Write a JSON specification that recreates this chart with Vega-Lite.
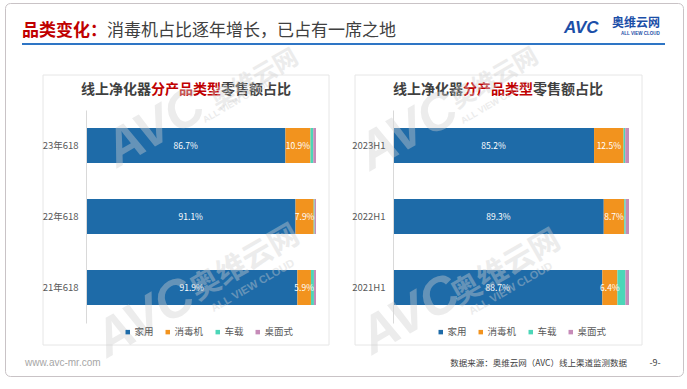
{
  "$schema": "https://vega.github.io/schema/vega-lite/v6.json",
  "width": 678,
  "height": 373,
  "autosize": {"type": "none"},
  "padding": {"left": 5, "top": 3, "right": 4, "bottom": 13},
  "background": "#ffffff",
  "config": {
    "view": {"stroke": "#c9c3c6", "strokeWidth": 1, "cornerRadius": 5},
    "font": "Noto Sans CJK SC",
    "text": {"font": "Noto Sans CJK SC"}
  },
  "datasets": {
    "s618": [
      {"period": "23年618", "type": "家用", "value": 86.7},
      {"period": "23年618", "type": "消毒机", "value": 10.9},
      {"period": "23年618", "type": "车载", "value": 1.2},
      {"period": "23年618", "type": "桌面式", "value": 1.2},
      {"period": "22年618", "type": "家用", "value": 91.1},
      {"period": "22年618", "type": "消毒机", "value": 7.9},
      {"period": "22年618", "type": "车载", "value": 0.4},
      {"period": "22年618", "type": "桌面式", "value": 0.6},
      {"period": "21年618", "type": "家用", "value": 91.9},
      {"period": "21年618", "type": "消毒机", "value": 5.9},
      {"period": "21年618", "type": "车载", "value": 1.3},
      {"period": "21年618", "type": "桌面式", "value": 0.9}
    ],
    "sH1": [
      {"period": "2023H1", "type": "家用", "value": 85.2},
      {"period": "2023H1", "type": "消毒机", "value": 12.5},
      {"period": "2023H1", "type": "车载", "value": 0.7},
      {"period": "2023H1", "type": "桌面式", "value": 1.6},
      {"period": "2022H1", "type": "家用", "value": 89.3},
      {"period": "2022H1", "type": "消毒机", "value": 8.7},
      {"period": "2022H1", "type": "车载", "value": 0.6},
      {"period": "2022H1", "type": "桌面式", "value": 1.4},
      {"period": "2021H1", "type": "家用", "value": 88.7},
      {"period": "2021H1", "type": "消毒机", "value": 6.4},
      {"period": "2021H1", "type": "车载", "value": 3.4},
      {"period": "2021H1", "type": "桌面式", "value": 1.5}
    ]
  },
  "layer": [
    {
      "data": {"values": [{}]},
      "mark": {"type": "rect", "fill": null, "fillOpacity": 0, "stroke": "#e6e6e6", "strokeWidth": 1},
      "encoding": {"x": {"value": 38}, "x2": {"value": 324}, "y": {"value": 72}, "y2": {"value": 342}}
    },
    {
      "data": {"values": [{}]},
      "mark": {"type": "rect", "fill": null, "fillOpacity": 0, "stroke": "#e6e6e6", "strokeWidth": 1},
      "encoding": {"x": {"value": 350}, "x2": {"value": 637}, "y": {"value": 72}, "y2": {"value": 342}}
    },
    {
      "data": {"values": [{}]},
      "mark": {"type": "text", "text": "品类变化：", "align": "left", "baseline": "middle", "fontSize": 17, "fontWeight": "bold", "color": "#C00000"},
      "encoding": {"x": {"value": 17}, "y": {"value": 28}}
    },
    {
      "data": {"values": [{}]},
      "mark": {"type": "text", "text": "消毒机占比逐年增长，已占有一席之地", "align": "left", "baseline": "middle", "fontSize": 17, "color": "#404040"},
      "encoding": {"x": {"value": 102}, "y": {"value": 28}}
    },
    {
      "data": {"values": [{}]},
      "mark": {"type": "rule", "color": "#2E75C5", "strokeWidth": 2},
      "encoding": {"x": {"value": 17}, "x2": {"value": 660}, "y": {"value": 41}}
    },
    {
      "data": {"values": [{}]},
      "mark": {"type": "text", "text": "AVC", "align": "left", "baseline": "middle", "fontSize": 17, "fontWeight": "bold", "fontStyle": "italic", "font": "Liberation Sans", "color": "#1B4FA8"},
      "encoding": {"x": {"value": 559}, "y": {"value": 25}}
    },
    {
      "data": {"values": [{}]},
      "mark": {"type": "text", "text": "奥维云网", "align": "left", "baseline": "middle", "fontSize": 12, "fontWeight": "bold", "color": "#1B4FA8"},
      "encoding": {"x": {"value": 607}, "y": {"value": 20}}
    },
    {
      "data": {"values": [{}]},
      "mark": {"type": "text", "text": "ALL VIEW CLOUD", "align": "left", "baseline": "middle", "fontSize": 4.5, "fontWeight": "bold", "font": "Liberation Sans", "color": "#1B4FA8"},
      "encoding": {"x": {"value": 616}, "y": {"value": 31}}
    },
    {
      "data": {"values": [{}]},
      "mark": {"type": "text", "text": "www.avc-mr.com", "align": "left", "baseline": "middle", "fontSize": 10, "font": "Liberation Sans", "color": "#a6a6a6"},
      "encoding": {"x": {"value": 20}, "y": {"value": 360}}
    },
    {
      "data": {"values": [{}]},
      "mark": {"type": "text", "text": "数据来源：奥维云网（AVC）线上渠道监测数据", "align": "right", "baseline": "middle", "fontSize": 8.5, "color": "#404040"},
      "encoding": {"x": {"value": 622}, "y": {"value": 360}}
    },
    {
      "data": {"values": [{}]},
      "mark": {"type": "text", "text": "-9-", "align": "center", "baseline": "middle", "fontSize": 9, "color": "#404040"},
      "encoding": {"x": {"value": 650}, "y": {"value": 360}}
    },
    {
      "data": {"values": [{}]},
      "mark": {"type": "text", "text": "线上净化器", "align": "right", "baseline": "middle", "fontSize": 14, "fontWeight": "bold", "color": "#404040"},
      "encoding": {"x": {"value": 146}, "y": {"value": 87}}
    },
    {
      "data": {"values": [{}]},
      "mark": {"type": "text", "text": "分产品类型", "align": "center", "baseline": "middle", "fontSize": 14, "fontWeight": "bold", "color": "#C00000"},
      "encoding": {"x": {"value": 181}, "y": {"value": 87}}
    },
    {
      "data": {"values": [{}]},
      "mark": {"type": "text", "text": "零售额占比", "align": "left", "baseline": "middle", "fontSize": 14, "fontWeight": "bold", "color": "#404040"},
      "encoding": {"x": {"value": 216}, "y": {"value": 87}}
    },
    {
      "data": {"values": [{}]},
      "mark": {"type": "text", "text": "线上净化器", "align": "right", "baseline": "middle", "fontSize": 14, "fontWeight": "bold", "color": "#404040"},
      "encoding": {"x": {"value": 458}, "y": {"value": 87}}
    },
    {
      "data": {"values": [{}]},
      "mark": {"type": "text", "text": "分产品类型", "align": "center", "baseline": "middle", "fontSize": 14, "fontWeight": "bold", "color": "#C00000"},
      "encoding": {"x": {"value": 493}, "y": {"value": 87}}
    },
    {
      "data": {"values": [{}]},
      "mark": {"type": "text", "text": "零售额占比", "align": "left", "baseline": "middle", "fontSize": 14, "fontWeight": "bold", "color": "#404040"},
      "encoding": {"x": {"value": 528}, "y": {"value": 87}}
    },
    {
      "data": {"name": "s618"},
      "transform": [
        {"calculate": "indexof(['家用','消毒机','车载','桌面式'], datum.type)", "as": "k"},
        {"stack": "value", "groupby": ["period"], "sort": [{"field": "k", "order": "ascending"}], "as": ["v0", "v1"]},
        {"calculate": "(datum.v0 + datum.v1) / 2", "as": "mid"},
        {"calculate": "format(datum.value, '.1f') + '%'", "as": "lbl"}
      ],
      "encoding": {
        "y": {
          "field": "period", "type": "nominal",
          "sort": ["23年618", "22年618", "21年618"],
          "scale": {"range": [107, 320], "paddingInner": 0.507, "paddingOuter": 0.2535},
          "axis": {"orient": "left", "offset": -81, "zindex": 1, "title": null, "ticks": false, "domainColor": "#d9d9d9", "labelFontSize": 9.5, "labelColor": "#595959", "labelPadding": 8, "labelFont": "Noto Sans CJK SC"}
        }
      },
      "layer": [
        {
          "mark": {"type": "bar"},
          "encoding": {
            "x": {"field": "v0", "type": "quantitative", "scale": {"domain": [0, 100], "range": [81, 311]}, "axis": null},
            "x2": {"field": "v1"},
            "color": {
              "field": "type", "type": "nominal",
              "scale": {"domain": ["家用", "消毒机", "车载", "桌面式"], "range": ["#1E6BA8", "#F2931E", "#4CD6B8", "#C68BB8"]},
              "legend": {"orient": "none", "legendX": 118, "legendY": 324, "direction": "horizontal", "title": null, "symbolType": "square", "symbolSize": 20, "symbolStrokeWidth": 0, "labelFontSize": 9.5, "labelColor": "#595959", "labelFont": "Noto Sans CJK SC", "columnPadding": 9, "labelOffset": 2}
            }
          }
        },
        {
          "transform": [{"filter": "datum.k < 2"}],
          "mark": {"type": "text", "color": "#ffffff", "fontSize": 8.5, "baseline": "middle", "align": "center"},
          "encoding": {
            "x": {"field": "mid", "type": "quantitative"},
            "text": {"field": "lbl"}
          }
        }
      ]
    },
    {
      "data": {"name": "sH1"},
      "transform": [
        {"calculate": "indexof(['家用','消毒机','车载','桌面式'], datum.type)", "as": "k"},
        {"stack": "value", "groupby": ["period"], "sort": [{"field": "k", "order": "ascending"}], "as": ["v0", "v1"]},
        {"calculate": "(datum.v0 + datum.v1) / 2", "as": "mid"},
        {"calculate": "format(datum.value, '.1f') + '%'", "as": "lbl"}
      ],
      "encoding": {
        "y": {
          "field": "period", "type": "nominal",
          "sort": ["2023H1", "2022H1", "2021H1"],
          "scale": {"range": [107, 320], "paddingInner": 0.507, "paddingOuter": 0.2535},
          "axis": {"orient": "left", "offset": -388, "zindex": 1, "title": null, "ticks": false, "domainColor": "#d9d9d9", "labelFontSize": 9.5, "labelColor": "#595959", "labelPadding": 8, "labelFont": "Noto Sans CJK SC"}
        }
      },
      "layer": [
        {
          "mark": {"type": "bar"},
          "encoding": {
            "x": {"field": "v0", "type": "quantitative", "scale": {"domain": [0, 100], "range": [388, 624]}, "axis": null},
            "x2": {"field": "v1"},
            "color": {
              "field": "type", "type": "nominal",
              "scale": {"domain": ["家用", "消毒机", "车载", "桌面式"], "range": ["#1E6BA8", "#F2931E", "#4CD6B8", "#C68BB8"]},
              "legend": {"orient": "none", "legendX": 431, "legendY": 324, "direction": "horizontal", "title": null, "symbolType": "square", "symbolSize": 20, "symbolStrokeWidth": 0, "labelFontSize": 9.5, "labelColor": "#595959", "labelFont": "Noto Sans CJK SC", "columnPadding": 9, "labelOffset": 2}
            }
          }
        },
        {
          "transform": [{"filter": "datum.k < 2"}],
          "mark": {"type": "text", "color": "#ffffff", "fontSize": 8.5, "baseline": "middle", "align": "center"},
          "encoding": {
            "x": {"field": "mid", "type": "quantitative"},
            "text": {"field": "lbl"}
          }
        }
      ]
    },
    {
      "data": {"values": [{}]},
      "mark": {"type": "text", "text": "AVC", "align": "center", "baseline": "middle", "fontSize": 52, "fontWeight": "bold", "fontStyle": "italic", "font": "Liberation Sans", "angle": -30, "color": "#d0d0d0", "opacity": 0.4},
      "encoding": {"x": {"value": 150}, "y": {"value": 125}}
    },
    {
      "data": {"values": [{}]},
      "mark": {"type": "text", "text": "奥维云网", "align": "center", "baseline": "middle", "fontSize": 24, "fontWeight": "bold", "angle": -30, "color": "#d0d0d0", "opacity": 0.4},
      "encoding": {"x": {"value": 250}, "y": {"value": 77}}
    },
    {
      "data": {"values": [{}]},
      "mark": {"type": "text", "text": "ALL VIEW CLOUD", "align": "center", "baseline": "middle", "fontSize": 9, "fontWeight": "bold", "font": "Liberation Sans", "angle": -30, "color": "#d0d0d0", "opacity": 0.4},
      "encoding": {"x": {"value": 232}, "y": {"value": 98}}
    },
    {
      "data": {"values": [{}]},
      "mark": {"type": "text", "text": "AVC", "align": "center", "baseline": "middle", "fontSize": 52, "fontWeight": "bold", "fontStyle": "italic", "font": "Liberation Sans", "angle": -30, "color": "#d0d0d0", "opacity": 0.4},
      "encoding": {"x": {"value": 140}, "y": {"value": 315}}
    },
    {
      "data": {"values": [{}]},
      "mark": {"type": "text", "text": "奥维云网", "align": "center", "baseline": "middle", "fontSize": 30, "fontWeight": "bold", "angle": -30, "color": "#d0d0d0", "opacity": 0.4},
      "encoding": {"x": {"value": 240}, "y": {"value": 260}}
    },
    {
      "data": {"values": [{}]},
      "mark": {"type": "text", "text": "ALL VIEW CLOUD", "align": "center", "baseline": "middle", "fontSize": 11, "fontWeight": "bold", "font": "Liberation Sans", "angle": -30, "color": "#d0d0d0", "opacity": 0.4},
      "encoding": {"x": {"value": 248}, "y": {"value": 283}}
    },
    {
      "data": {"values": [{}]},
      "mark": {"type": "text", "text": "AVC", "align": "center", "baseline": "middle", "fontSize": 52, "fontWeight": "bold", "fontStyle": "italic", "font": "Liberation Sans", "angle": -30, "color": "#d0d0d0", "opacity": 0.4},
      "encoding": {"x": {"value": 403}, "y": {"value": 128}}
    },
    {
      "data": {"values": [{}]},
      "mark": {"type": "text", "text": "奥维云网", "align": "center", "baseline": "middle", "fontSize": 24, "fontWeight": "bold", "angle": -30, "color": "#d0d0d0", "opacity": 0.4},
      "encoding": {"x": {"value": 490}, "y": {"value": 76}}
    },
    {
      "data": {"values": [{}]},
      "mark": {"type": "text", "text": "ALL VIEW CLOUD", "align": "center", "baseline": "middle", "fontSize": 9, "fontWeight": "bold", "font": "Liberation Sans", "angle": -30, "color": "#d0d0d0", "opacity": 0.4},
      "encoding": {"x": {"value": 490}, "y": {"value": 99}}
    },
    {
      "data": {"values": [{}]},
      "mark": {"type": "text", "text": "AVC", "align": "center", "baseline": "middle", "fontSize": 52, "fontWeight": "bold", "fontStyle": "italic", "font": "Liberation Sans", "angle": -30, "color": "#d0d0d0", "opacity": 0.4},
      "encoding": {"x": {"value": 405}, "y": {"value": 312}}
    },
    {
      "data": {"values": [{}]},
      "mark": {"type": "text", "text": "奥维云网", "align": "center", "baseline": "middle", "fontSize": 30, "fontWeight": "bold", "angle": -30, "color": "#d0d0d0", "opacity": 0.4},
      "encoding": {"x": {"value": 501}, "y": {"value": 265}}
    },
    {
      "data": {"values": [{}]},
      "mark": {"type": "text", "text": "ALL VIEW CLOUD", "align": "center", "baseline": "middle", "fontSize": 11, "fontWeight": "bold", "font": "Liberation Sans", "angle": -30, "color": "#d0d0d0", "opacity": 0.4},
      "encoding": {"x": {"value": 506}, "y": {"value": 286}}
    }
  ],
  "resolve": {
    "scale": {"x": "independent", "y": "independent", "color": "independent"},
    "axis": {"y": "independent"},
    "legend": {"color": "independent"}
  }
}
